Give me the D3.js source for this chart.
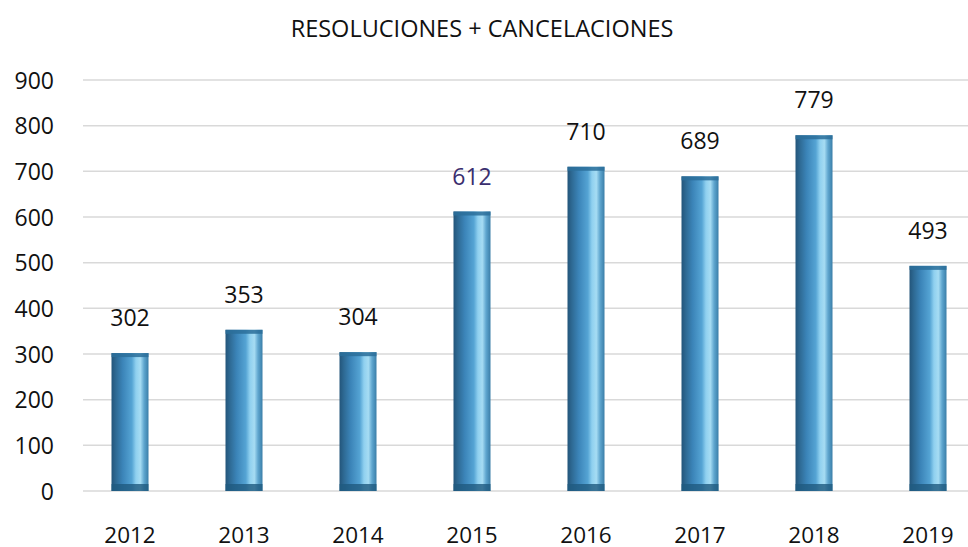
<!DOCTYPE html>
<html>
<head>
<meta charset="utf-8">
<script src="https://cdn.jsdelivr.net/npm/d3@7"></script>
<style>
  html, body { margin: 0; padding: 0; background: #fff; }
  svg { display: block; font-family: "Open Sans", sans-serif; }
</style>
</head>
<body>
<div id="chart"></div>
<script>
var years  = ["2012", "2013", "2014", "2015", "2016", "2017", "2018", "2019"];
var values = [302, 353, 304, 612, 710, 689, 779, 493];
var yTicks = [0, 100, 200, 300, 400, 500, 600, 700, 800, 900];
var title  = "RESOLUCIONES + CANCELACIONES";

var W = 968, H = 547;
var svg = d3.select("#chart").append("svg")
  .attr("width", W).attr("height", H);

var x = d3.scaleBand().domain(years).range([73, 985]).paddingInner(0).paddingOuter(0);
var y = d3.scaleLinear().domain([0, 900]).range([491, 80]);
var BW = 37;

// gradient for the bars
var defs = svg.append("defs");
var g = defs.append("linearGradient").attr("id", "barGrad")
  .attr("x1", "0").attr("x2", "1").attr("y1", "0").attr("y2", "0");
[["0%", "#23557a"], ["12%", "#2e6a94"], ["30%", "#3b84b8"], ["55%", "#55a4d4"],
 ["66%", "#8fd0ef"], ["78%", "#a6dcf3"], ["88%", "#5fa6cf"], ["100%", "#3a7ea8"]]
  .forEach(function (s) { g.append("stop").attr("offset", s[0]).attr("stop-color", s[1]); });

// title
svg.append("text")
  .attr("x", 482).attr("y", 37)
  .attr("text-anchor", "middle")
  .attr("font-size", "23.5px")
  .attr("fill", "#111")
  .text(title);

// gridlines
svg.append("g").selectAll("line").data(yTicks).join("line")
  .attr("x1", 83).attr("x2", 968)
  .attr("y1", function (d) { return y(d); })
  .attr("y2", function (d) { return y(d); })
  .attr("stroke", "#d9d9d9").attr("stroke-width", 1.5);

// y axis labels
svg.append("g").selectAll("text").data(yTicks).join("text")
  .attr("x", 54)
  .attr("y", function (d) { return y(d) + 8.5; })
  .attr("text-anchor", "end")
  .attr("font-size", "23px")
  .attr("fill", "#111")
  .text(function (d) { return d; });

// x axis labels
svg.append("g").selectAll("text").data(years).join("text")
  .attr("x", function (d) { return x(d) + x.bandwidth() / 2; })
  .attr("y", 543)
  .attr("text-anchor", "middle")
  .attr("font-size", "22.5px")
  .attr("fill", "#111")
  .text(function (d) { return d; });

// bars
var bars = svg.append("g").selectAll("g").data(values).join("g");
bars.append("rect")
  .attr("x", function (d, i) { return x(years[i]) + x.bandwidth() / 2 - BW / 2; })
  .attr("y", function (d) { return y(d); })
  .attr("width", BW)
  .attr("height", function (d) { return y(0) - y(d); })
  .attr("fill", "url(#barGrad)");
// top cap
bars.append("rect")
  .attr("x", function (d, i) { return x(years[i]) + x.bandwidth() / 2 - BW / 2; })
  .attr("y", function (d) { return y(d); })
  .attr("width", BW).attr("height", 4)
  .attr("fill", "#2c6f9a").attr("opacity", 0.85);
// bottom cap
bars.append("rect")
  .attr("x", function (d, i) { return x(years[i]) + x.bandwidth() / 2 - BW / 2; })
  .attr("y", y(0) - 7)
  .attr("width", BW).attr("height", 7)
  .attr("fill", "#1f5a80").attr("opacity", 0.8);

// value labels
svg.append("g").selectAll("text").data(values).join("text")
  .attr("x", function (d, i) { return x(years[i]) + x.bandwidth() / 2; })
  .attr("y", function (d) { return y(d) - 27; })
  .attr("text-anchor", "middle")
  .attr("font-size", "23px")
  .attr("fill", function (d, i) { return years[i] === "2015" ? "#3a2e6e" : "#111"; })
  .text(function (d) { return d; });
</script>
</body>
</html>
